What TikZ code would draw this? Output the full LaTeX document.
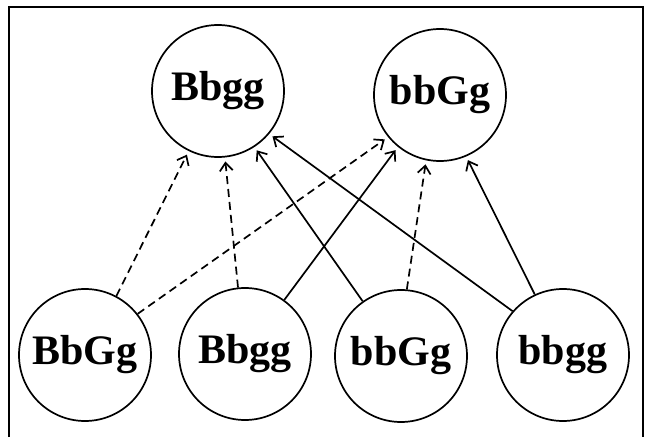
\documentclass[tikz,border=0pt]{standalone}
\usepackage{fontspec}
\setmainfont{Liberation Serif}
\usetikzlibrary{arrows.meta,positioning}

\begin{document}
\begin{tikzpicture}[x=1pt,y=1pt,line width=1.7pt,
    geno/.style={draw,circle,minimum size=132pt,inner sep=0pt,font=\fontsize{42}{42}\selectfont\bfseries},
    link/.style={-{Straight Barb[length=8pt,width=13pt]},shorten >=4pt},
    dlink/.style={link,dash pattern=on 8pt off 5pt}]
  \useasboundingbox (0,0) rectangle (651,437);
  % open frame
  \draw (9,0) -- (9,430) -- (643,430) -- (643,0);

  \node[geno] (t1) at (218,346) {Bbgg};
  \node[geno] (t2) at (440,342) {bbGg};

  \node[geno] (b1) at (85,82) {BbGg};
  \node[geno] (b2) at (245,83) {Bbgg};
  \node[geno] (b3) at (401,81) {bbGg};
  \node[geno] (b4) at (563,82) {bbgg};

  \draw[dlink] (b1.62) -- (t1.-116);
  \draw[dlink] (b1.38) -- (t2.-141);
  \draw[dlink] (b2.96) -- (t1.-84);
  \draw[link] (b2.54) -- (t2.-129);
  \draw[link] (b3.125) -- (t1.-57);
  \draw[dlink] (b3.85) -- (t2.-102);
  \draw[link] (b4.139) -- (t1.-40);
  \draw[link] (b4.115) -- (t2.-67);
\end{tikzpicture}
\end{document}
